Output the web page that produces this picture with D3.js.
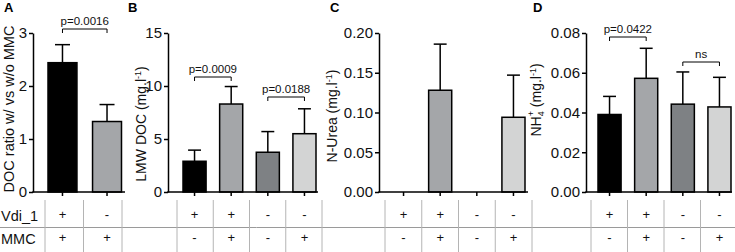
<!DOCTYPE html>
<html>
<head>
<meta charset="utf-8">
<script src="https://cdn.jsdelivr.net/npm/d3@7"></script>
<style>
body { margin: 0; background: #fff; }
svg { display: block; font-family: "Liberation Sans", Arial, sans-serif; }
</style>
</head>
<body>
<svg id="fig" width="735" height="252"></svg>
<script>
// values
var fillsA = ["#000000", "#a4a6a9"];
var fills4 = ["#000000", "#a4a6a9", "#7e8184", "#d3d4d4"];

var vdiA = ["+", "-"];
var mmcA = ["+", "+"];
var vdi4 = ["+", "+", "-", "-"];
var mmc4 = ["-", "+", "-", "+"];

var docRatio = [2.44, 1.33];
var docRatioErr = [0.34, 0.32];
var lmwDoc = [2.9, 8.3, 3.75, 5.5];
var lmwDocErr = [1.05, 1.65, 1.95, 2.35];
var nUrea = [0, 0.128, 0, 0.094];
var nUreaErr = [0, 0.058, 0, 0.053];
var nh4 = [0.039, 0.0572, 0.0442, 0.0428];
var nh4Err = [0.0091, 0.0151, 0.0162, 0.0149];

var ticksA = [0, 1, 2, 3];
var ticksB = [0, 5, 10, 15];
var ticksC = [0, 0.05, 0.10, 0.15, 0.20];
var ticksD = [0, 0.02, 0.04, 0.06, 0.08];

var statsA = [{a: 0, b: 1, label: "p=0.0016"}];
var statsB = [{a: 0, b: 1, label: "p=0.0009"}, {a: 2, b: 3, label: "p=0.0188"}];
var statsC = [];
var statsD = [{a: 0, b: 1, label: "p=0.0422"}, {a: 2, b: 3, label: "ns"}];

var rowNames = ["Vdi_1", "MMC"];

var svg = d3.select("#fig");
var yTop = 33, yBot = 192;

var panels = [
    {letter: "A", lx: 4, values: docRatio, errs: docRatioErr, fills: fillsA, vdi: vdiA, mmc: mmcA,
     ticks: ticksA, fmt: d3.format("d"), stats: statsA, statY: [29],
     axisX: 33, axisEnd: 125, barRange: [48, 121.5], pad: 0.35, tableRange: [45, 122],
     label: "DOC ratio", labelX: 14, labelY: 109},
    {letter: "B", lx: 128, values: lmwDoc, errs: lmwDocErr, fills: fills4, vdi: vdi4, mmc: mmc4,
     ticks: ticksB, fmt: d3.format("d"), stats: statsB, statY: [77, 97],
     axisX: 168, axisEnd: 318, barRange: [183, 316], pad: 0.37, tableRange: [177, 322],
     label: "LMW", labelX: 146, labelY: 124},
    {letter: "C", lx: 330, values: nUrea, errs: nUreaErr, fills: fills4, vdi: vdi4, mmc: mmc4,
     ticks: ticksC, fmt: d3.format(".2f"), stats: statsC, statY: [],
     axisX: 379, axisEnd: 528, barRange: [392, 525], pad: 0.37, tableRange: [385, 532],
     label: "N-Urea", labelX: 337, labelY: 116},
    {letter: "D", lx: 533, values: nh4, errs: nh4Err, fills: fills4, vdi: vdi4, mmc: mmc4,
     ticks: ticksD, fmt: d3.format(".2f"), stats: statsD, statY: [37, 62],
     axisX: 586, axisEnd: 732, barRange: [598, 731], pad: 0.37, tableRange: [591, 737],
     label: "NH4", labelX: 541, labelY: 100}
];

// table frame
svg.append("line")
    .attr("x1", 0).attr("x2", 735).attr("y1", 227.5).attr("y2", 227.5)
    .attr("stroke", "#9a9a9a").attr("stroke-width", 1);

svg.selectAll(".rowname")
    .data(rowNames)
    .enter().append("text")
    .attr("x", 1)
    .attr("y", function (d, i) { return 221 + i * 23; })
    .style("font-size", "14.5px")
    .style("fill", "#111")
    .text(function (d) { return d; });

panels.forEach(function (p) {
    var g = svg.append("g");
    var n = p.values.length;
    var idx = d3.range(n);

    var x = d3.scaleBand().domain(idx).range(p.barRange).paddingInner(p.pad).paddingOuter(0);
    var cx = function (i) { return x(i) + x.bandwidth() / 2; };
    var y = d3.scaleLinear().domain([0, p.ticks[p.ticks.length - 1]]).range([yBot, yTop]);
    var capW = Math.min(x.bandwidth() * 0.28, 7.5);

    // panel letter
    g.append("text")
        .attr("x", p.lx).attr("y", 12)
        .style("font-size", "13px").style("font-weight", "bold")
        .text(p.letter);

    // error bars (upper only)
    var eb = g.selectAll(".err").data(idx.filter(function (i) { return p.errs[i] > 0; }))
        .enter().append("g");
    eb.append("line")
        .attr("x1", cx).attr("x2", cx)
        .attr("y1", function (i) { return y(p.values[i]); })
        .attr("y2", function (i) { return y(p.values[i] + p.errs[i]); })
        .attr("stroke", "#000").attr("stroke-width", 1.5);
    eb.append("line")
        .attr("x1", function (i) { return cx(i) - capW; })
        .attr("x2", function (i) { return cx(i) + capW; })
        .attr("y1", function (i) { return y(p.values[i] + p.errs[i]); })
        .attr("y2", function (i) { return y(p.values[i] + p.errs[i]); })
        .attr("stroke", "#000").attr("stroke-width", 1.5);

    // bars
    g.selectAll(".bar").data(idx.filter(function (i) { return p.values[i] > 0; }))
        .enter().append("rect")
        .attr("x", function (i) { return x(i); })
        .attr("width", x.bandwidth())
        .attr("y", function (i) { return y(p.values[i]); })
        .attr("height", function (i) { return yBot - y(p.values[i]); })
        .attr("fill", function (i) { return p.fills[i]; })
        .attr("stroke", "#000").attr("stroke-width", 1.5);

    // y axis
    var ya = g.append("g")
        .attr("transform", "translate(" + p.axisX + ",0)")
        .call(d3.axisLeft(y).tickValues(p.ticks).tickFormat(p.fmt).tickSize(4).tickSizeOuter(0).tickPadding(2));
    ya.select(".domain").attr("stroke-width", 1.5);
    ya.selectAll(".tick line").attr("stroke-width", 1.5);
    ya.selectAll(".tick text")
        .style("font-family", "'Liberation Sans', Arial, sans-serif")
        .style("font-size", "15px").style("fill", "#111");

    // x axis line with ticks at bar centres
    g.append("line")
        .attr("x1", p.axisX - 0.75).attr("x2", p.axisEnd)
        .attr("y1", yBot).attr("y2", yBot)
        .attr("stroke", "#000").attr("stroke-width", 1.5);
    g.selectAll(".xt").data(idx).enter().append("line")
        .attr("x1", cx).attr("x2", cx)
        .attr("y1", yBot).attr("y2", yBot + 4)
        .attr("stroke", "#000").attr("stroke-width", 1.5);

    // significance brackets
    p.stats.forEach(function (s, k) {
        var by = p.statY[k];
        var x1 = cx(s.a), x2 = cx(s.b);
        g.append("path")
            .attr("d", "M" + x1 + "," + (by + 4) + "V" + by + "H" + x2 + "V" + (by + 4))
            .attr("fill", "none").attr("stroke", "#000").attr("stroke-width", 1);
        g.append("text")
            .attr("x", (x1 + x2) / 2).attr("y", by - 4)
            .attr("text-anchor", "middle")
            .style("font-size", "11.5px").style("fill", "#111")
            .text(s.label);
    });

    // y label
    var lab = g.append("text")
        .attr("transform", "translate(" + p.labelX + "," + p.labelY + ") rotate(-90)")
        .attr("text-anchor", "middle")
        .style("font-size", p.label === "DOC ratio" ? "14.5px" : "14px").style("fill", "#111");
    if (p.label === "DOC ratio") {
        lab.text("DOC ratio w/ vs w/o MMC");
    } else if (p.label === "NH4") {
        lab.append("tspan").text("NH");
        lab.append("tspan").attr("dy", 3).style("font-size", "9px").text("4");
        lab.append("tspan").attr("dx", -5).attr("dy", -10).style("font-size", "9px").text("+");
        lab.append("tspan").attr("dy", 7).text(" (mg.l");
        lab.append("tspan").attr("dy", -5).style("font-size", "9px").text("-1");
        lab.append("tspan").attr("dy", 5).text(")");
    } else {
        lab.append("tspan").text(p.label === "LMW" ? "LMW DOC (mg.l" : "N-Urea (mg.l");
        lab.append("tspan").attr("dy", -5).style("font-size", "9px").text("-1");
        lab.append("tspan").attr("dy", 5).text(")");
    }

    // table: column separators and +/- marks
    var tcol = d3.scaleBand().domain(idx).range(p.tableRange);
    var seps = idx.map(function (i) { return tcol(i); }).concat([p.tableRange[1]]);
    g.selectAll(".sep").data(seps).enter().append("line")
        .attr("x1", function (d) { return d; }).attr("x2", function (d) { return d; })
        .attr("y1", 200).attr("y2", 252)
        .attr("stroke", "#b4b4b4").attr("stroke-width", 1);

    [p.vdi, p.mmc].forEach(function (row, r) {
        g.selectAll(".m" + r).data(row).enter().append("text")
            .attr("x", function (d, i) { return cx(i); })
            .attr("y", 219 + r * 23)
            .attr("text-anchor", "middle")
            .style("font-size", "13px").style("fill", "#111")
            .text(function (d) { return d; });
    });
});
</script>
</body>
</html>
